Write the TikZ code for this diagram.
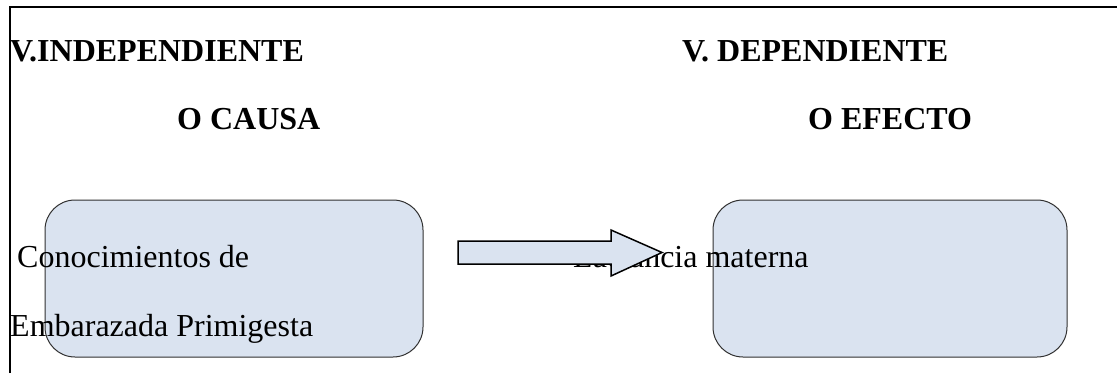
\documentclass[tikz,border=0pt]{standalone}
\usepackage{fontspec}
\setmainfont{Liberation Serif}
\definecolor{boxfill}{HTML}{DAE3F0}
\definecolor{boxline}{HTML}{303030}
\begin{document}
\begin{tikzpicture}[x=1pt,y=-1pt,
  txt/.style={anchor=base west,inner sep=0pt,font=\fontsize{32}{38}\selectfont},
  head/.style={txt,font=\fontsize{32}{38}\selectfont\bfseries},
  rbox/.style={draw=boxline,line width=1pt,fill=boxfill,rounded corners=30pt}]
\useasboundingbox (0,0) rectangle (1117,373);
% frame
\draw[line width=2.7pt] (10,373) -- (10,7) -- (1117,7);
% boxes
\draw[rbox] (45,200) rectangle (423,357);
\draw[rbox] (713,200) rectangle (1067,357);
\node[rbox,draw=none,fill=none,minimum width=378pt,minimum height=157pt] (causa) at (234,278.5) {};
\node[rbox,draw=none,fill=none,minimum width=354pt,minimum height=157pt] (efecto) at (890,278.5) {};
% headings
\node[head] (h1) at (10,61) {V.INDEPENDIENTE};
\node[head] (h2) at (177,129) {O CAUSA};
\node[head] (h3) at (682,61) {V. DEPENDIENTE};
\node[head] (h4) at (808,129) {O EFECTO};
% texts
\node[txt] (t1) at (17,267) {Conocimientos de};
\node[txt] (t2) at (10,336) {Embarazada Primigesta};
\node[txt] (t3) at (573,267) {Lactancia materna};
% arrow
\draw[line width=1.5pt,fill=boxfill,line join=miter]
  (458,241) -- (611,241) -- (611,230) -- (662,252.5) -- (611,276) -- (611,264) -- (458,264) -- cycle;
\end{tikzpicture}
\end{document}
